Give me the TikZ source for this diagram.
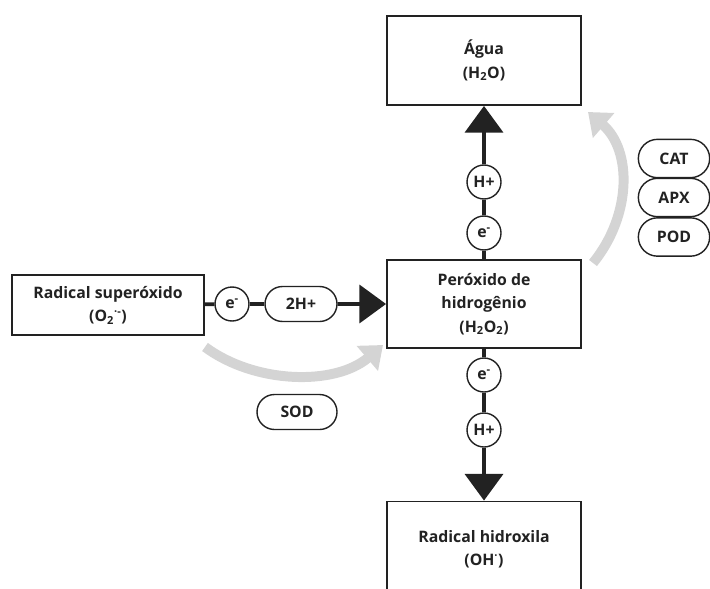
\documentclass[tikz,border=0pt]{standalone}
\usepackage{fontspec}
\setmainfont{Open Sans}
\usetikzlibrary{arrows.meta, shapes.misc}
\definecolor{ink}{HTML}{222222}
\definecolor{swingc}{HTML}{D4D4D4}
\tikzset{
  lbl/.style = {text = ink, font = \bfseries\fontsize{13.5}{20}\selectfont},
  box/.style = {lbl, draw = ink, line width = 1.6pt, fill = white, minimum width = 5.82cm, align = center},
  circ/.style = {lbl, draw = ink, circle, line width = 1.2pt, fill = white, inner sep = 0, minimum size = 1.02cm},
  pill/.style = {lbl, draw = ink, rounded rectangle, line width = 1.2pt, fill = white, inner sep = 0, minimum height = 1.05cm},
  link/.style = {draw = ink, line width = 3.2pt},
  flow/.style = {link, -{Triangle[length = 0.8cm, width = 1.14cm]}},
  swing/.style = {swingc, line width = 8.5pt, -{Triangle[length = 0.62cm, width = 0.95cm]}}
}

\begin{document}
\begin{tikzpicture}[x = 0.03cm, y = -0.03cm]
    \clip (0, 0) rectangle (710, 588);

    % gray arcs
    \coordinate (sodA) at (205, 347);
    \coordinate (sodB) at (383, 345);
    \coordinate (encA) at (593, 263);
    \coordinate (encB) at (588, 112);
    \draw [swing] (sodA) .. controls (255, 384) and (335, 386) .. (sodB);
    \draw [swing] (encA) .. controls (632, 215) and (632, 150) .. (encB);

    % boxes
    \node [box, minimum height = 2.67cm] (agua) at (484, 60.5) {Água\\(H\textsubscript{2}O)};
    \node [box, minimum height = 2.64cm] (perox) at (484, 304) {Peróxido de\\hidrogênio\\(H\textsubscript{2}O\textsubscript{2})};
    \node [box, minimum height = 2.85cm] (hidrox) at (484, 549) {Radical hidroxila\\(OH\textsuperscript{·})};
    \node [box, minimum width = 5.76cm, minimum height = 1.8cm] (super) at (108, 305) {Radical superóxido\\(O\textsubscript{2}\textsuperscript{·-})};

    % carriers
    \node [circ] (el) at (232, 304) {e\textsuperscript{-}};
    \node [pill, minimum width = 2.16cm] (hl) at (301, 304) {2H+};
    \node [circ] (hu) at (484, 182) {H+};
    \node [circ] (eu) at (484, 233) {e\textsuperscript{-}};
    \node [circ] (ed) at (484, 375) {e\textsuperscript{-}};
    \node [circ] (hd) at (484, 430) {H+};

    \draw [link] (super) -- (el);
    \draw [link] (el) -- (hl);
    \draw [flow] (hl) -- (perox);
    \draw [link] (perox) -- (eu);
    \draw [link] (eu) -- (hu);
    \draw [flow] (hu) -- (agua);
    \draw [link] (perox) -- (ed);
    \draw [link] (ed) -- (hd);
    \draw [flow] (hd) -- (hidrox);

    % enzymes
    \node [pill, minimum width = 2.14cm, minimum height = 1.15cm] (cat) at (674, 158.5) {CAT};
    \node [pill, minimum width = 2.14cm, minimum height = 1.15cm] (apx) at (674, 197.5) {APX};
    \node [pill, minimum width = 2.14cm, minimum height = 1.15cm] (pod) at (674, 237) {POD};
    \node [pill, minimum width = 2.4cm] (sod) at (297, 412) {SOD};
\end{tikzpicture}
\end{document}
